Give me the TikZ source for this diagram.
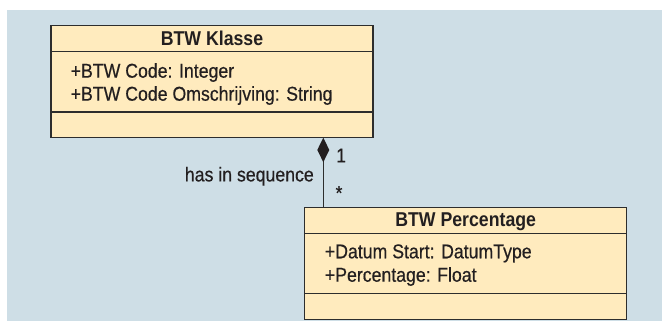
\documentclass[tikz,border=0pt]{standalone}
\usepackage{fontspec}
\setmainfont{Liberation Sans}[FakeStretch=0.885, UprightFeatures={FakeBold=0.5}]
\usetikzlibrary{arrows.meta,calc}

\definecolor{bgblue}{RGB}{206,222,230}
\definecolor{classfill}{RGB}{255,235,190}
\definecolor{edge}{RGB}{45,45,45}
\definecolor{ink}{RGB}{35,31,32}

\tikzset{
  classbox/.style={draw=edge, fill=classfill, line width=1.5pt,
    minimum width=322pt, minimum height=112pt, anchor=north west,
    inner sep=0pt, outer sep=0pt},
  sepline/.style={draw=edge, line width=1.5pt},
  title/.style={font=\fontsize{20}{23}\selectfont\bfseries, text=ink,
    anchor=base, inner sep=0pt},
  attr/.style={font=\fontsize{20}{23}\selectfont, text=ink,
    anchor=base west, inner sep=0pt},
  role/.style={font=\fontsize{20}{23}\selectfont, text=ink, inner sep=0pt},
  composition/.style={draw=edge, line width=1.5pt,
    -{Diamond[length=24.5pt,width=12pt,fill=ink,line width=0pt]}},
}

\begin{document}
\begin{tikzpicture}[x=1pt,y=1pt]
  % page and panel
  \fill[white] (0,0) rectangle (662,321);
  \fill[bgblue] (7,0) rectangle (662,311);
  \useasboundingbox (0,0) rectangle (662,321);

  % class: BTW Klasse
  \node[classbox] (klasse) at (51,295.3) {};
  \draw[sepline] ($(klasse.north west)+(0,-26)$) -- ($(klasse.north east)+(0,-26)$);
  \draw[sepline] ($(klasse.north west)+(0,-86.3)$) -- ($(klasse.north east)+(0,-86.3)$);
  \node[title] (klasseT) at ($(klasse.north)+(0,-19.8)$) {BTW Klasse};
  \node[attr] (klasseA1) at ($(klasse.north west)+(19.5,-52)$) {+BTW Code: Integer};
  \node[attr] (klasseA2) at ($(klasse.north west)+(19.5,-75)$) {+BTW Code Omschrijving: String};

  % class: BTW Percentage
  \node[classbox] (pct) at (304.7,113.7) {};
  \draw[sepline] ($(pct.north west)+(0,-26)$) -- ($(pct.north east)+(0,-26)$);
  \draw[sepline] ($(pct.north west)+(0,-86.3)$) -- ($(pct.north east)+(0,-86.3)$);
  \node[title] (pctT) at ($(pct.north)+(0,-18.8)$) {BTW Percentage};
  \node[attr] (pctA1) at ($(pct.north west)+(20,-51)$) {+Datum Start: DatumType};
  \node[attr] (pctA2) at ($(pct.north west)+(20,-74.4)$) {+Percentage: Float};

  % composition link
  \coordinate (whole) at ($(klasse.south west)+(272.3,0)$);
  \coordinate (part) at (whole |- pct.north);
  \draw[composition] (part) -- (whole);
  \node[role, anchor=base east] (assoc) at ($(whole)+(-9.3,-43.7)$) {has in sequence};
  \node[role, anchor=base west] (mult1) at ($(whole)+(12.7,-24.7)$) {1};
  \node[role, anchor=base] (multN) at ($(whole)+(15.7,-62.2)$) {*};
\end{tikzpicture}
\end{document}
